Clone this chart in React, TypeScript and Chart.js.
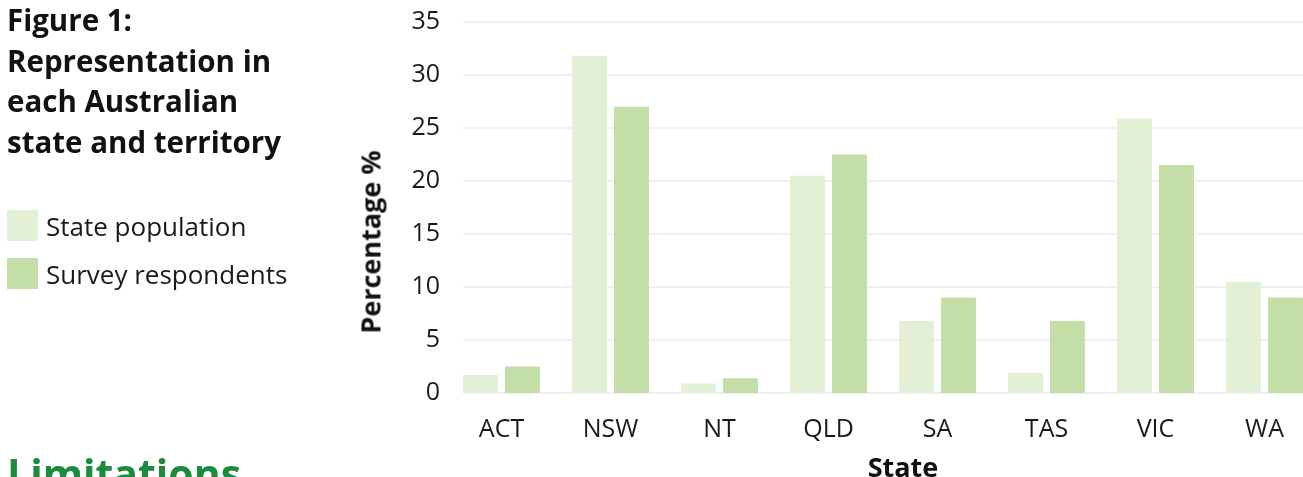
import React, { useEffect, useRef } from "react";
import { Chart, registerables } from "chart.js";

Chart.register(...registerables);

const categories = ["ACT", "NSW", "NT", "QLD", "SA", "TAS", "VIC", "WA"];
const statePopulation = [1.7, 31.8, 0.9, 20.5, 6.8, 1.9, 25.9, 10.5];
const surveyRespondents = [2.5, 27.0, 1.4, 22.5, 9.0, 6.8, 21.5, 9.0];
const yTicks = [0, 5, 10, 15, 20, 25, 30, 35];

const popColor = "#e4f0d6";
const surveyColor = "#c4dea8";
const FONT = "'Open Sans', 'Noto Sans', sans-serif";

const gridPlugin = {
  id: "customGrid",
  beforeDatasetsDraw(chart: any) {
    const { ctx, chartArea, scales } = chart;
    const y = scales.y;
    ctx.save();
    ctx.strokeStyle = "#f0f0f0";
    ctx.lineWidth = 2;
    y.ticks.forEach((t: any) => {
      const py = Math.round(y.getPixelForValue(t.value));
      ctx.beginPath();
      ctx.moveTo(chartArea.left + 16, py);
      ctx.lineTo(chartArea.right, py);
      ctx.stroke();
    });
    ctx.restore();
  },
};

function BarChart() {
  const ref = useRef<HTMLCanvasElement | null>(null);
  useEffect(() => {
    if (!ref.current) return;
    const chart = new Chart(ref.current, {
      type: "bar",
      data: {
        labels: categories,
        datasets: [
          {
            label: "State population",
            data: statePopulation,
            backgroundColor: popColor,
            categoryPercentage: 0.77,
            barPercentage: 0.833,
          },
          {
            label: "Survey respondents",
            data: surveyRespondents,
            backgroundColor: surveyColor,
            categoryPercentage: 0.77,
            barPercentage: 0.833,
          },
        ],
      },
      options: {
        animation: false,
        responsive: true,
        maintainAspectRatio: false,
        layout: { padding: { top: 18, right: 11, bottom: 0, left: 0 } },
        plugins: { legend: { display: false }, tooltip: { enabled: false } },
        scales: {
          x: {
            grid: { display: false, drawTicks: false },
            border: { display: false },
            ticks: {
              color: "#1a1a1a",
              font: { family: FONT, size: 25 },
              padding: 22,
            },
            afterFit: (s: any) => {
              s.height = 84;
            },
          },
          y: {
            min: 0,
            max: 35,
            afterBuildTicks: (s: any) => {
              s.ticks = yTicks.map((v) => ({ value: v }));
            },
            grid: { display: false, drawTicks: false },
            border: { display: false },
            ticks: {
              color: "#1a1a1a",
              font: { family: FONT, size: 25 },
              padding: 7,
            },
            afterFit: (s: any) => {
              s.width = 447;
            },
          },
        },
      },
      plugins: [gridPlugin],
    });
    return () => chart.destroy();
  }, []);
  return (
    <div style={{ position: "absolute", left: 0, top: 0, width: 1330, height: 477 }}>
      <canvas ref={ref} />
    </div>
  );
}

export default function App() {
  return (
    <div
      style={{
        position: "fixed",
        left: 0,
        top: 0,
        width: 1303,
        height: 477,
        overflow: "hidden",
        background: "#fff",
        fontFamily: FONT,
        color: "#111",
      }}
    >
      <BarChart />
      <div
        style={{
          position: "absolute",
          left: 7,
          top: 0,
          fontWeight: 700,
          fontSize: 29.5,
          lineHeight: "40.5px",
          whiteSpace: "nowrap",
        }}
      >
        Figure 1:
        <br />
        Representation in
        <br />
        each Australian
        <br />
        state and territory
      </div>
      {[
        { label: "State population", color: popColor, top: 210 },
        { label: "Survey respondents", color: surveyColor, top: 258 },
      ].map((l) => (
        <div
          key={l.label}
          style={{ position: "absolute", left: 7, top: l.top, height: 31, display: "flex", alignItems: "center" }}
        >
          <div style={{ width: 31, height: 31, background: l.color }} />
          <span style={{ marginLeft: 8, fontSize: 26, whiteSpace: "nowrap", color: "#1a1a1a" }}>{l.label}</span>
        </div>
      ))}
      <div
        style={{
          position: "absolute",
          left: 370,
          top: 241.5,
          transform: "translate(-50%, -50%) rotate(-90deg)",
          fontWeight: 700,
          fontSize: 27,
          whiteSpace: "nowrap",
          color: "#111",
        }}
      >
        Percentage %
      </div>
      <div
        style={{
          position: "absolute",
          left: 903,
          top: 452,
          transform: "translateX(-50%)",
          fontWeight: 700,
          fontSize: 27,
          lineHeight: "30px",
          whiteSpace: "nowrap",
          color: "#111",
        }}
      >
        State
      </div>
      <div
        style={{
          position: "absolute",
          left: 7,
          top: 453,
          fontWeight: 700,
          fontSize: 41,
          lineHeight: "41px",
          color: "#1b8b3e",
          whiteSpace: "nowrap",
        }}
      >
        Limitations
      </div>
    </div>
  );
}
